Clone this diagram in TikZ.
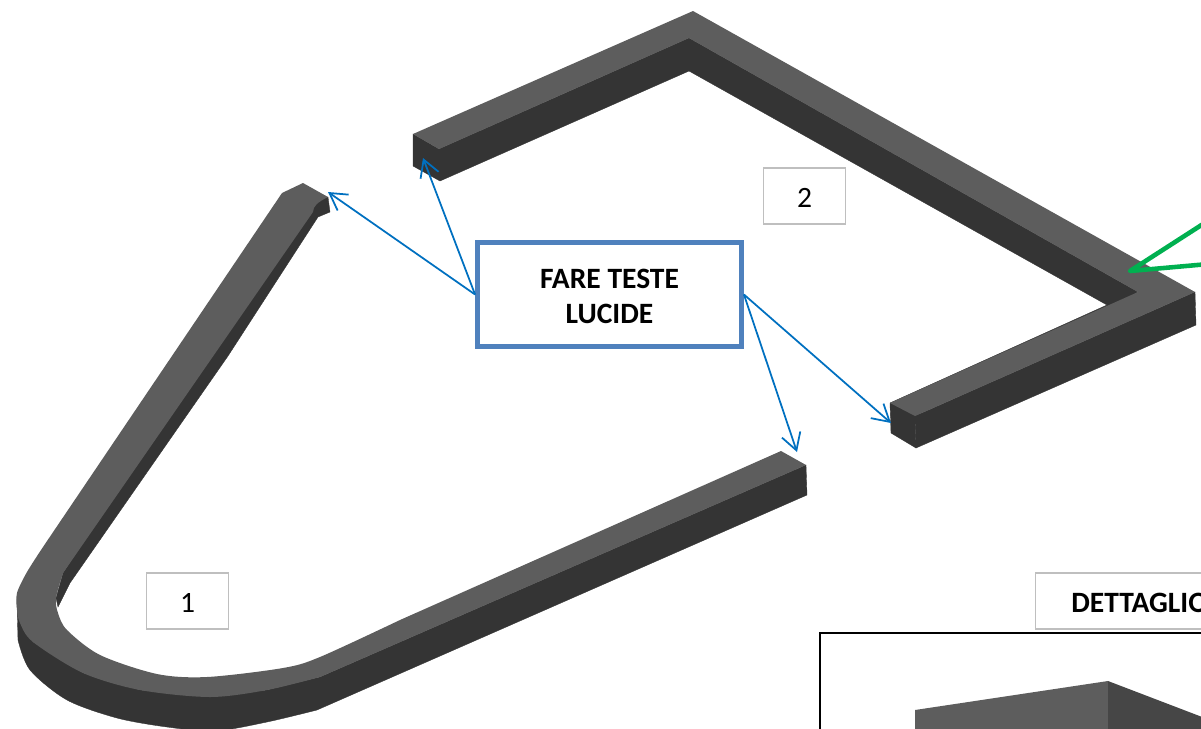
\documentclass[tikz,border=0pt]{standalone}
\usepackage{fontspec}
\setmainfont{Carlito}
\usetikzlibrary{arrows.meta, positioning}

\begin{document}
\begin{tikzpicture}[x=0.02cm, y=-0.02cm,
    topface/.style = {fill={rgb,255:red,93;green,93;blue,93}},
    sideface/.style = {fill={rgb,255:red,52;green,52;blue,52}, draw={rgb,255:red,52;green,52;blue,52}, line width=0.2pt},
    labelbox/.style = {draw={rgb,255:red,191;green,191;blue,191}, line width=0.9pt, font=\fontsize{16.8}{20}\selectfont, minimum height=1.13cm, text height=13pt, text depth=0pt},
    callout/.style = {draw={rgb,255:red,79;green,129;blue,189}, line width=2.8pt, font=\fontsize{16.8}{20.2}\selectfont\bfseries, align=center, minimum width=5.28cm, minimum height=2.08cm},
    bluearrow/.style = {color={rgb,255:red,0;green,112;blue,192}, line width=1pt, -{Straight Barb[length=9.5pt,width=11pt]}},
    greenline/.style = {draw={rgb,255:red,0;green,176;blue,80}, line width=2.6pt, line join=round}]
    \useasboundingbox (0,0) rectangle (1201,728);

    \draw [sideface] (413,134) -- (439,149) -- (689,38) -- (1138,292) -- (915,416) -- (916,448) -- (891,433) -- (890,403)
        -- (1107,305) -- (689,71) -- (440,181) -- (413,166) -- cycle;
    \draw [sideface] (915,416) -- (1195,292) -- (1196,325) -- (916,448) -- cycle;
    \fill [topface] (413,134) -- (693,11) -- (1195,292) -- (915,416) -- (890,403) -- (1138,292) -- (689,38) -- (439,149) -- cycle;

    \draw [sideface] (17,600) -- plot [smooth] coordinates {(18,640) (30,670) (67,700) (117,718) (167,727) (215,731) (267,722) (317,710)}
        -- (807,495) -- (806,465) -- (320,677) -- (267,690) -- (210,697) -- (140,690) -- (83,673) -- (33,642) -- cycle;
    \draw [sideface] (328,197) -- (330,212) -- (318,217) -- (228,356) -- (70,583) -- (58,607) -- (56,598) -- (63,573) -- (305,205) -- cycle;
    \fill [topface] (303,183) -- (282,193) -- (43,547)
        -- plot [smooth] coordinates {(43,547) (27,572) (17,593) (17,610) (20,623) (33,642) (83,673) (140,690) (210,697) (267,690) (320,677)}
        -- (806,465) -- (781,451)
        -- plot [smooth] coordinates {(400,620) (320,657) (283,668) (207,677) (157,674) (100,655) (67,630) (58,613) (56,598) (63,573)}
        -- (313,212) .. controls (313,206) and (318,202) .. (328,197) -- cycle;

    \draw [line width=1.1pt] (820,633) rectangle (1300,800);
    \fill [topface] (915,710) -- (1108,681) -- (1108,740) -- (915,740) -- cycle;
    \fill [fill={rgb,255:red,70;green,70;blue,70}] (1108,681) -- (1210,720) -- (1210,740) -- (1108,740) -- cycle;

    \node (box1) [labelbox, minimum width=1.64cm] at (187.5,601) {1};
    \node (box2) [labelbox, minimum width=1.64cm] at (804.5,196) {2};
    \node (boxdetail) [labelbox, anchor=west, inner xsep=20.5pt] at (1034.5,601) {\bfseries DETTAGLIO};
    \node (fare) [callout] at (609.5,294.5) {\rule{0pt}{13.2pt}FARE TESTE\\LUCIDE};

    \coordinate (tip1a) at (328,192);
    \coordinate (tip2a) at (423,158);
    \coordinate (tip1b) at (797,452);
    \coordinate (tip2b) at (891,423);
    \coordinate (greentip) at (1130,271);
    \coordinate (greenup) at (1231,206);
    \coordinate (greendown) at (1231,262);

    \path [bluearrow]
        (fare.west) edge (tip1a)
        (fare.west) edge (tip2a)
        (fare.east) edge (tip1b)
        (fare.east) edge (tip2b);

    \draw [greenline] (greenup) -- (greentip) -- (greendown);
\end{tikzpicture}
\end{document}
